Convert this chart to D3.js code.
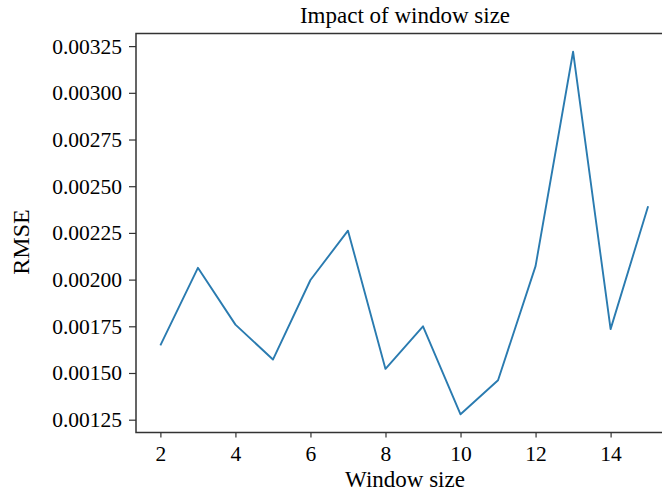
<!DOCTYPE html>
<html>
<head>
<meta charset="utf-8">
<script src="https://cdn.jsdelivr.net/npm/d3@7"></script>
<style>
  html, body { margin: 0; padding: 0; background: #fff; }
  svg { display: block; }
  text { font-family: "Liberation Serif", "DejaVu Serif", serif; fill: #000; }
</style>
</head>
<body>
<svg id="chart" width="662" height="495"></svg>
<script>
const windowSizes = [2, 3, 4, 5, 6, 7, 8, 9, 10, 11, 12, 13, 14, 15];
const rmseValues = [0.001648, 0.002063, 0.001759, 0.001572, 0.001998, 0.002262, 0.001522, 0.001750, 0.001279, 0.001461, 0.002072, 0.003220, 0.001735, 0.002393];
const xTickValues = [2, 4, 6, 8, 10, 12, 14];
const yTickValues = [0.00125, 0.00150, 0.00175, 0.00200, 0.00225, 0.00250, 0.00275, 0.00300, 0.00325];
const titleText = "Impact of window size";
const xLabelText = "Window size";
const yLabelText = "RMSE";

const svg = d3.select("#chart");
const mLeft = 136, mRight = 672.5, mTop = 33.6, mBottom = 432.4;

const xExt = d3.extent(windowSizes);
const xPad = (xExt[1] - xExt[0]) * 0.05;
const x = d3.scaleLinear().domain([xExt[0] - xPad, xExt[1] + xPad]).range([mLeft, mRight]);
const yExt = d3.extent(rmseValues);
const yPad = (yExt[1] - yExt[0]) * 0.05;
const y = d3.scaleLinear().domain([yExt[0] - yPad, yExt[1] + yPad]).range([mBottom, mTop]);

// line
const line = d3.line().x((d, i) => x(windowSizes[i])).y(d => y(d));
svg.append("path").datum(rmseValues)
  .attr("d", line)
  .attr("fill", "none")
  .attr("stroke", "#2a7bb0")
  .attr("stroke-width", 1.9)
  .attr("stroke-linejoin", "round");

// axes
const xAxis = d3.axisBottom(x).tickValues(xTickValues).tickSize(5).tickPadding(8).tickFormat(d3.format("d"));
const gx = svg.append("g").attr("transform", `translate(0,${mBottom})`).call(xAxis);
gx.select(".domain").remove();
gx.selectAll("line").attr("stroke", "#333").attr("stroke-width", 1.2);
gx.selectAll("text").attr("font-size", 21.5).attr("fill", "#000");

const yAxis = d3.axisLeft(y).tickValues(yTickValues).tickSize(7).tickPadding(7).tickFormat(d3.format(".5f"));
const gy = svg.append("g").attr("transform", `translate(${mLeft},0)`).call(yAxis);
gy.select(".domain").remove();
gy.selectAll("line").attr("stroke", "#333").attr("stroke-width", 1.2);
gy.selectAll("text").attr("font-size", 21.5).attr("fill", "#000");

// spines
svg.append("path")
  .attr("d", `M${mRight},${mTop}H${mLeft}V${mBottom}H${mRight}`)
  .attr("fill", "none").attr("stroke", "#333").attr("stroke-width", 1.5);

// title and labels
svg.append("text").attr("x", 405).attr("y", 23)
  .attr("text-anchor", "middle").attr("font-size", 23).text(titleText);
svg.append("text").attr("x", 405).attr("y", 487)
  .attr("text-anchor", "middle").attr("font-size", 23).text(xLabelText);
svg.append("text").attr("transform", `translate(29,${(mTop + mBottom) / 2 + 9}) rotate(-90)`)
  .attr("text-anchor", "middle").attr("font-size", 24).text(yLabelText);
</script>
</body>
</html>
